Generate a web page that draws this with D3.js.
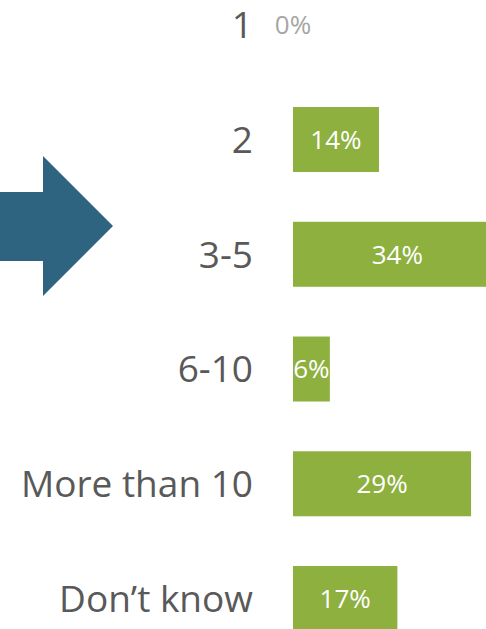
<!DOCTYPE html>
<html>
<head>
<meta charset="utf-8">
<script src="https://cdn.jsdelivr.net/npm/d3@7"></script>
<style>
  html, body { margin: 0; padding: 0; background: #fff; }
  svg { display: block; }
</style>
</head>
<body>
<svg id="chart" width="486" height="629"></svg>
<script>
// Number of items — share of respondents
const categories = ["1", "2", "3-5", "6-10", "More than 10", "Don\u2019t know"];
const shares = [0, 14, 34, 6, 29, 17];
const valueLabels = ["0%", "14%", "34%", "6%", "29%", "17%"];

const svg = d3.select("#chart");
const font = "'Open Sans', 'Noto Sans', sans-serif";

const barLeft = 293;
const x = d3.scaleLinear().domain([0, 100]).range([barLeft, barLeft + 614]);
const y = d3.scaleBand()
  .domain(categories)
  .range([-32.6, 655.9])
  .paddingInner(0.4336)
  .paddingOuter(0.2168);

// Pointer arrow aimed at the 3-5 group
const arrowPath = d3.path();
arrowPath.moveTo(0, 192);
arrowPath.lineTo(43, 192);
arrowPath.lineTo(43, 156);
arrowPath.lineTo(113, 226);
arrowPath.lineTo(43, 296);
arrowPath.lineTo(43, 261);
arrowPath.lineTo(0, 261);
arrowPath.closePath();
svg.append("path").attr("d", arrowPath.toString()).attr("fill", "#2f6481");

const rows = svg.selectAll("g.row")
  .data(categories.map((c, i) => ({ cat: c, v: shares[i], label: valueLabels[i] })))
  .join("g")
  .attr("class", "row");

rows.append("rect")
  .attr("x", x(0))
  .attr("y", d => y(d.cat))
  .attr("width", d => x(d.v) - x(0))
  .attr("height", y.bandwidth())
  .attr("fill", "#8db03f");

// Category names, right-aligned before the bars
rows.append("text")
  .attr("x", 253)
  .attr("y", d => y(d.cat) + y.bandwidth() / 2)
  .attr("dy", "0.36em")
  .attr("text-anchor", "end")
  .attr("font-family", font)
  .attr("font-size", 37)
  .attr("fill", "#595959")
  .text(d => d.cat);

// Value labels centred on each bar
rows.append("text")
  .attr("x", d => (x(0) + x(d.v)) / 2)
  .attr("y", d => y(d.cat) + y.bandwidth() / 2)
  .attr("dy", "0.36em")
  .attr("text-anchor", "middle")
  .attr("font-family", font)
  .attr("font-size", 26)
  .attr("fill", d => d.v === 0 ? "#a6a6a6" : "#ffffff")
  .text(d => d.label);
</script>
</body>
</html>
